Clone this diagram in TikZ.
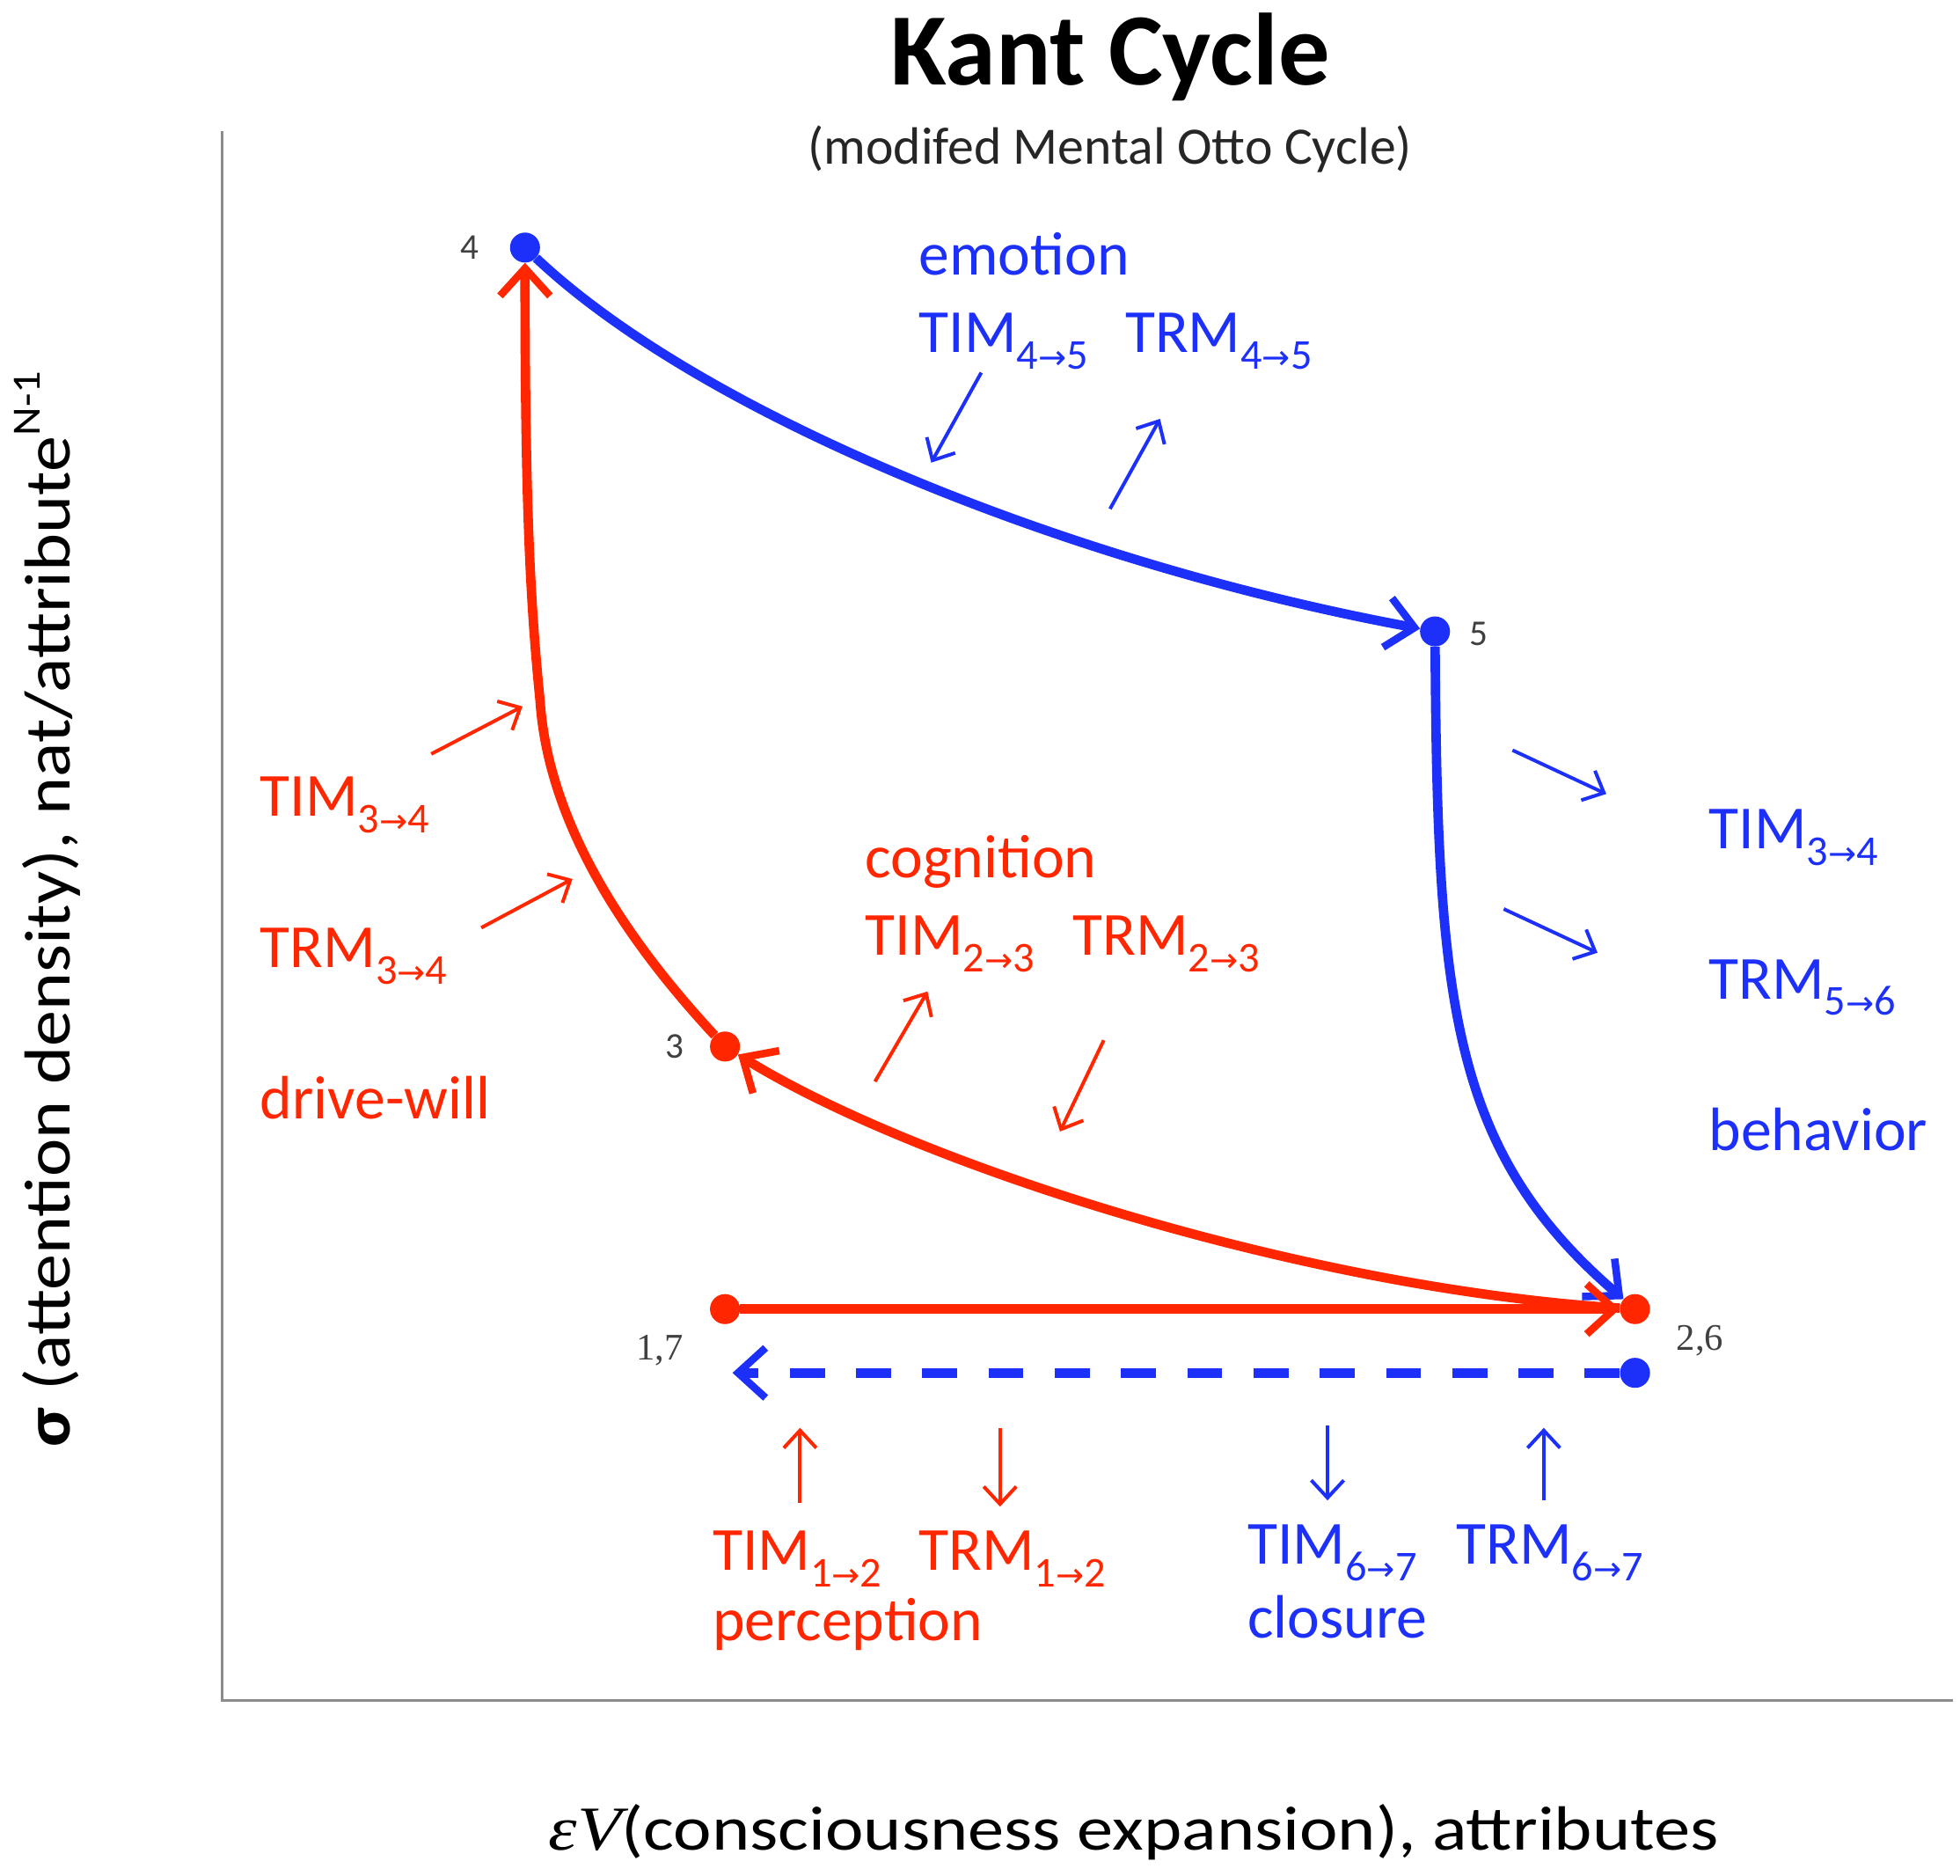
\documentclass[tikz,border=0pt]{standalone}
\usepackage{fontspec}
\setmainfont{Carlito}
\newfontfamily\arrfont{DejaVu Sans}
\newfontfamily\seriffont{Liberation Serif}
\usetikzlibrary{arrows.meta}
\definecolor{kred}{RGB}{255,38,0}
\definecolor{kblue}{RGB}{28,48,250}
\newcommand\tsub[2]{\raisebox{-13pt}{\fontsize{34}{34}\selectfont #1{\arrfont\fontsize{27}{27}\selectfont →}#2}}
\begin{document}
\begin{tikzpicture}[x=1pt,y=-1pt,
  lbl/.style={anchor=base west, inner sep=0pt, font=\fontsize{49}{58}\selectfont},
  num/.style={text=black!75, inner sep=0pt, font=\fontsize{29}{32}\selectfont},
  dot/.style={circle, fill, draw=none, inner sep=0pt, minimum size=24pt},
  main/.style={line width=7.5pt, -{Straight Barb[length=22pt,width=40pt,line width=6pt]}},
  small/.style={line width=2.8pt, -{Straight Barb[length=14pt,width=26pt]}},
  axisline/.style={draw=black!45, line width=2.2pt}]
\fill[white] (0,0) rectangle (1568,1500);
\useasboundingbox (0,0) rectangle (1568,1500);
% title
\node[anchor=base, inner sep=0pt, font=\bfseries\fontsize{82}{90}\selectfont] (title) at (888,68) {Kant Cycle};
\node[anchor=base, inner sep=0pt, text=black!85, font=\fontsize{42}{48}\selectfont] (subtitle) at (888,131) {(modifed Mental Otto Cycle)};
% axes
\coordinate (ytop) at (178,105);
\coordinate (orig) at (178,1360);
\coordinate (xend) at (1562,1360);
\draw[axisline] (ytop) -- (orig) -- (xend);
\node[anchor=base, inner sep=0pt, font=\fontsize{50}{58}\selectfont] (xlabel) at (907,1480) {\scalebox{1.16}[1]{{\seriffont\itshape εV}(consciousness expansion), attributes}};
\node[rotate=90, anchor=base, inner sep=0pt, font=\fontsize{52}{60}\selectfont] (ylabel) at (56,727) {\scalebox{1.11}[1]{\textbf{σ} (attention density), nat/attribute\raisebox{24pt}{\fontsize{32}{32}\selectfont N-1}}};
% points
\node[dot,kblue] (p4) at (420,198) {};
\node[dot,kblue] (p5) at (1148,505) {};
\node[dot,kred] (p3) at (580,837) {};
\node[dot,kred] (p1) at (580,1047) {};
\node[dot,kred] (p2) at (1308,1047) {};
\node[dot,kblue] (p6) at (1308,1098) {};
\coordinate (p7) at (586,1098);
\coordinate (m34) at (432,560);
% number labels
\node[num] (n4) at (376,198) {4};
\node[num] (n5) at (1183,507) {5};
\node[num] (n3) at (540,837) {3};
\node[num, font=\seriffont\fontsize{30}{32}\selectfont] (n17) at (528,1080) {1,7};
\node[num, font=\seriffont\fontsize{30}{32}\selectfont] (n26) at (1360,1072) {2,6};
% main cycle
\draw[main,kblue] (p4) .. controls (560,330) and (850,450) .. (p5);
\draw[main,kblue] (p5) .. controls (1150,800) and (1160,920) .. (p2);
\draw[main,kred] (p1) -- (p2);
\draw[main,kred] (p2) .. controls (1040,1030) and (730,930) .. (p3);
\draw[main,kred] (p3) .. controls (490,740) and (438,650) .. (m34) .. controls (424,480) and (420,400) .. (p4);
\draw[main,kblue,dash pattern=on 28pt off 25pt] (p6) -- (p7);
% small arrows
\coordinate (a1s) at (345,603); \coordinate (a1e) at (418,565);
\coordinate (a2s) at (385,742); \coordinate (a2e) at (458,703);
\coordinate (a3s) at (700,865); \coordinate (a3e) at (742,793);
\coordinate (a4s) at (883,832); \coordinate (a4e) at (848,905);
\coordinate (a5s) at (640,1202); \coordinate (a5e) at (640,1142);
\coordinate (a6s) at (800,1142); \coordinate (a6e) at (800,1205);
\coordinate (b1s) at (785,298); \coordinate (b1e) at (745,370);
\coordinate (b2s) at (888,407); \coordinate (b2e) at (928,335);
\coordinate (b3s) at (1210,600); \coordinate (b3e) at (1285,635);
\coordinate (b4s) at (1203,727); \coordinate (b4e) at (1278,762);
\coordinate (b5s) at (1062,1140); \coordinate (b5e) at (1062,1200);
\coordinate (b6s) at (1235,1200); \coordinate (b6e) at (1235,1142);
\draw[small,kred] (a1s) -- (a1e);
\draw[small,kred] (a2s) -- (a2e);
\draw[small,kred] (a3s) -- (a3e);
\draw[small,kred] (a4s) -- (a4e);
\draw[small,kred] (a5s) -- (a5e);
\draw[small,kred] (a6s) -- (a6e);
\draw[small,kblue] (b1s) -- (b1e);
\draw[small,kblue] (b2s) -- (b2e);
\draw[small,kblue] (b3s) -- (b3e);
\draw[small,kblue] (b4s) -- (b4e);
\draw[small,kblue] (b5s) -- (b5e);
\draw[small,kblue] (b6s) -- (b6e);
% blue labels
\node[lbl,text=kblue] (emo) at (735,220) {emotion};
\node[lbl,text=kblue] (tim45) at (735,282) {TIM\tsub{4}{5}};
\node[lbl,text=kblue] (trm45) at (900,282) {TRM\tsub{4}{5}};
\node[lbl,text=kblue] (timr) at (1367,679) {TIM\tsub{3}{4}};
\node[lbl,text=kblue] (trm56) at (1367,799) {TRM\tsub{5}{6}};
\node[lbl,text=kblue] (beh) at (1367,920) {behavior};
\node[lbl,text=kblue] (tim67) at (998,1251) {TIM\tsub{6}{7}};
\node[lbl,text=kblue] (trm67) at (1165,1251) {TRM\tsub{6}{7}};
\node[lbl,text=kblue] (clo) at (998,1310) {closure};
% red labels
\node[lbl,text=kred] (tim34) at (208,653) {TIM\tsub{3}{4}};
\node[lbl,text=kred] (trm34) at (208,774) {TRM\tsub{3}{4}};
\node[lbl,text=kred] (drv) at (208,895) {drive-will};
\node[lbl,text=kred] (cog) at (692,702) {cognition};
\node[lbl,text=kred] (tim23) at (692,764) {TIM\tsub{2}{3}};
\node[lbl,text=kred] (trm23) at (858,764) {TRM\tsub{2}{3}};
\node[lbl,text=kred] (tim12) at (570,1256) {TIM\tsub{1}{2}};
\node[lbl,text=kred] (trm12) at (735,1256) {TRM\tsub{1}{2}};
\node[lbl,text=kred] (per) at (570,1312) {perception};
\end{tikzpicture}
\end{document}
